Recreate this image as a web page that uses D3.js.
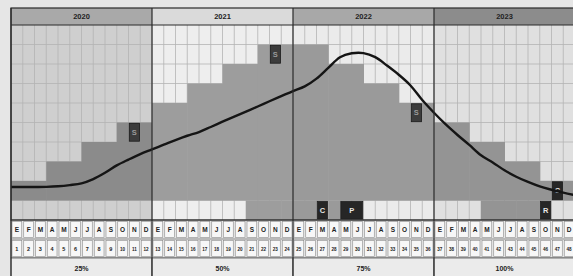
<!DOCTYPE html>
<html><head><meta charset="utf-8">
<script src="https://cdn.jsdelivr.net/npm/d3@7"></script>
<style>html,body{margin:0;padding:0;background:#e6e6e6;overflow:hidden}</style>
</head><body>
<svg id="c" width="573" height="276"></svg>
<script>
// ---- data ----
const years = ["2020", "2021", "2022", "2023"];
const yearPercent = ["25%", "50%", "75%", "100%"];
const monthLetters = ["E","F","M","A","M","J","J","A","S","O","N","D"];
const monthNumbers = [1,2,3,4,5,6,7,8,9,10,11,12,13,14,15,16,17,18,19,20,21,22,23,24,
  25,26,27,28,29,30,31,32,33,34,35,36,37,38,39,40,41,42,43,44,45,46,47,48];
// stepped area level per quarter (grid rows)
const quarterLevels = [2,3,4,5, 6,7,8,9, 9,8,7,6, 5,4,3,2];
// curve value at each month boundary (0..48), in grid rows
const curveValues = [1.69,1.69,1.69,1.70,1.73,1.79,1.88,2.10,2.42,2.80,3.10,3.38,3.62,
  3.86,4.10,4.32,4.51,4.77,5.04,5.30,5.56,5.82,6.09,6.35,6.61,6.85,7.25,7.80,8.35,8.55,
  8.56,8.35,7.92,7.45,6.90,6.15,5.50,4.90,4.36,3.85,3.32,2.95,2.55,2.22,1.95,1.72,1.55,1.40,1.27];
// months shaded in the bottom row
const bottomRowMonths = [21,22,23,24,25,26,28,41,42,43,44,45];
// milestone markers: label, first month, span (months), row
const markerLabels = ["S","S","S","C","P","R","C"];
const markerMonths = [11,23,35,27,29,46,47];
const markerSpans  = [1,1,1,1,2,1,1];
const markerRows   = [4,8,5,0,0,0,1];

// ---- layout ----
const svg = d3.select("#c");
const left = 11, colW = 11.75, nMonths = 48;
const x = d3.scaleLinear().domain([0, nMonths]).range([left, left + nMonths * colW]);
const y = d3.scaleLinear().domain([0, 10]).range([220, 25]);
const headTop = 8, headBot = 25;
const rowL = [220, 239], rowN = [239, 258], rowP = [258, 278];
const yearBg = ["#cfcfcf", "#eeeeee", "#ebebeb", "#e0e0e0"];
const yearHead = ["#a9a9a9", "#dadada", "#a8a8a8", "#8c8c8c"];
const yearFill = ["#8b8b8b", "#9d9d9d", "#9a9a9a", "#949494"];

// backgrounds of grid by year
svg.selectAll("rect.bg").data(years).join("rect")
  .attr("x", (d,i) => x(i*12)).attr("y", y(10))
  .attr("width", x(12) - x(0)).attr("height", y(0) - y(10))
  .attr("fill", (d,i) => yearBg[i]);

// grid lines
const g = svg.append("g").attr("stroke", "#b4b4b4").attr("stroke-width", 0.8);
g.selectAll("line.v").data(d3.range(1, nMonths)).join("line")
  .attr("x1", d => x(d)).attr("x2", d => x(d)).attr("y1", y(10)).attr("y2", y(0));
g.selectAll("line.h").data(d3.range(1, 10)).join("line")
  .attr("x1", x(0)).attr("x2", x(nMonths)).attr("y1", d => y(d)).attr("y2", d => y(d));

// stepped area (from level 1 up to quarter level)
svg.selectAll("rect.q").data(quarterLevels).join("rect")
  .attr("x", (d,i) => x(i*3)).attr("width", x(3) - x(0) + 0.5)
  .attr("y", d => y(d)).attr("height", d => y(1) - y(d))
  .attr("fill", (d,i) => yearFill[Math.floor(i/4)]);

// bottom row shading
svg.selectAll("rect.b").data(bottomRowMonths).join("rect")
  .attr("x", d => x(d-1)).attr("width", x(1) - x(0) + 0.5)
  .attr("y", y(1)).attr("height", y(0) - y(1))
  .attr("fill", d => yearFill[Math.floor((d-1)/12)]);

// markers
const mk = svg.selectAll("g.mk").data(markerLabels).join("g");
mk.append("rect")
  .attr("x", (d,i) => x(markerMonths[i]-1) + 0.8)
  .attr("width", (d,i) => x(markerSpans[i]) - x(0) - 1.6)
  .attr("y", (d,i) => y(markerRows[i]+1) + 0.8)
  .attr("height", (d,i) => y(markerRows[i]) - y(markerRows[i]+1) - 1.6)
  .attr("fill", (d,i) => d === "S" ? "#3c3c3c" : "#262626")
  .attr("stroke", "#1a1a1a").attr("stroke-width", 0.8);
mk.append("text")
  .attr("x", (d,i) => x(markerMonths[i]-1 + markerSpans[i]/2))
  .attr("y", (d,i) => (y(markerRows[i]) + y(markerRows[i]+1))/2 + 2.5)
  .attr("text-anchor", "middle")
  .attr("font-family", "Liberation Sans, Arial, sans-serif")
  .attr("font-weight", "bold").attr("font-size", 7.5)
  .attr("fill", d => d === "S" ? "#9a9a9a" : "#e8e8e8")
  .text(d => d);

// curve
const line = d3.line().x((d,i) => x(i)).y(d => y(d)).curve(d3.curveCatmullRom.alpha(0.5));
svg.append("path").datum(curveValues).attr("d", line)
  .attr("fill", "none").attr("stroke", "#151515").attr("stroke-width", 2.4);

// header
svg.selectAll("rect.hd").data(years).join("rect")
  .attr("x", (d,i) => x(i*12)).attr("y", headTop)
  .attr("width", x(12) - x(0)).attr("height", headBot - headTop)
  .attr("fill", (d,i) => yearHead[i]);
svg.selectAll("text.hd").data(years).join("text")
  .attr("x", (d,i) => x(i*12 + 6)).attr("y", (headTop + headBot)/2 + 2.6)
  .attr("text-anchor", "middle")
  .attr("font-family", "Liberation Sans, Arial, sans-serif")
  .attr("font-weight", "bold").attr("font-size", 7.5).attr("fill", "#222")
  .text(d => d);

// month letter row and number row
const cells = svg.append("g");
monthNumbers.forEach((n, i) => {
  [rowL, rowN].forEach(r => {
    cells.append("rect").attr("x", x(i) + 1).attr("y", r[0] + 1.5)
      .attr("width", x(1) - x(0) - 2).attr("height", r[1] - r[0] - 3)
      .attr("fill", "#f7f7f7").attr("stroke", "#8a8a8a").attr("stroke-width", 0.6);
  });
});
svg.append("rect").attr("x", x(0)).attr("y", rowL[0]).attr("width", x(nMonths) - x(0))
  .attr("height", rowN[1] - rowL[0]).attr("fill", "none").attr("stroke", "#555").attr("stroke-width", 0.8);
svg.append("line").attr("x1", x(0)).attr("x2", x(nMonths)).attr("y1", rowN[0]).attr("y2", rowN[0])
  .attr("stroke", "#666").attr("stroke-width", 0.7);
svg.selectAll("text.ml").data(monthNumbers).join("text")
  .attr("x", (d,i) => x(i + 0.5)).attr("y", (rowL[0] + rowL[1])/2 + 2.4)
  .attr("text-anchor", "middle")
  .attr("font-family", "Liberation Sans, Arial, sans-serif")
  .attr("font-weight", "bold").attr("font-size", 6.5).attr("fill", "#222")
  .text((d,i) => monthLetters[i % 12]);
svg.selectAll("text.mn").data(monthNumbers).join("text")
  .attr("x", (d,i) => x(i + 0.5)).attr("y", (rowN[0] + rowN[1])/2 + 2)
  .attr("text-anchor", "middle")
  .attr("font-family", "Liberation Sans, Arial, sans-serif")
  .attr("font-weight", "bold").attr("font-size", d => d >= 10 ? 4.6 : 5.5).attr("fill", "#222")
  .text(d => d);

// percent row
svg.selectAll("rect.pc").data(yearPercent).join("rect")
  .attr("x", (d,i) => x(i*12)).attr("y", rowP[0])
  .attr("width", x(12) - x(0)).attr("height", rowP[1] - rowP[0])
  .attr("fill", "#ebebeb").attr("stroke", "#555").attr("stroke-width", 0.8);
svg.selectAll("text.pc").data(yearPercent).join("text")
  .attr("x", (d,i) => x(i*12 + 6)).attr("y", rowP[0] + 12.5)
  .attr("text-anchor", "middle")
  .attr("font-family", "Liberation Sans, Arial, sans-serif")
  .attr("font-weight", "bold").attr("font-size", 7).attr("fill", "#222")
  .text(d => d);

// frame and year separators
svg.append("rect").attr("x", x(0)).attr("y", headTop).attr("width", x(nMonths) - x(0))
  .attr("height", y(0) - headTop).attr("fill", "none").attr("stroke", "#2a2a2a").attr("stroke-width", 1.2);
svg.append("line").attr("x1", x(0)).attr("x2", x(nMonths)).attr("y1", headBot).attr("y2", headBot)
  .attr("stroke", "#2a2a2a").attr("stroke-width", 1);
svg.selectAll("line.yr").data([1,2,3]).join("line")
  .attr("x1", d => x(d*12)).attr("x2", d => x(d*12)).attr("y1", headTop).attr("y2", 276)
  .attr("stroke", "#2a2a2a").attr("stroke-width", 1.2);
svg.append("line").attr("x1", x(0)).attr("x2", x(0)).attr("y1", headTop).attr("y2", 276)
  .attr("stroke", "#2a2a2a").attr("stroke-width", 1.2);
</script>
</body></html>
